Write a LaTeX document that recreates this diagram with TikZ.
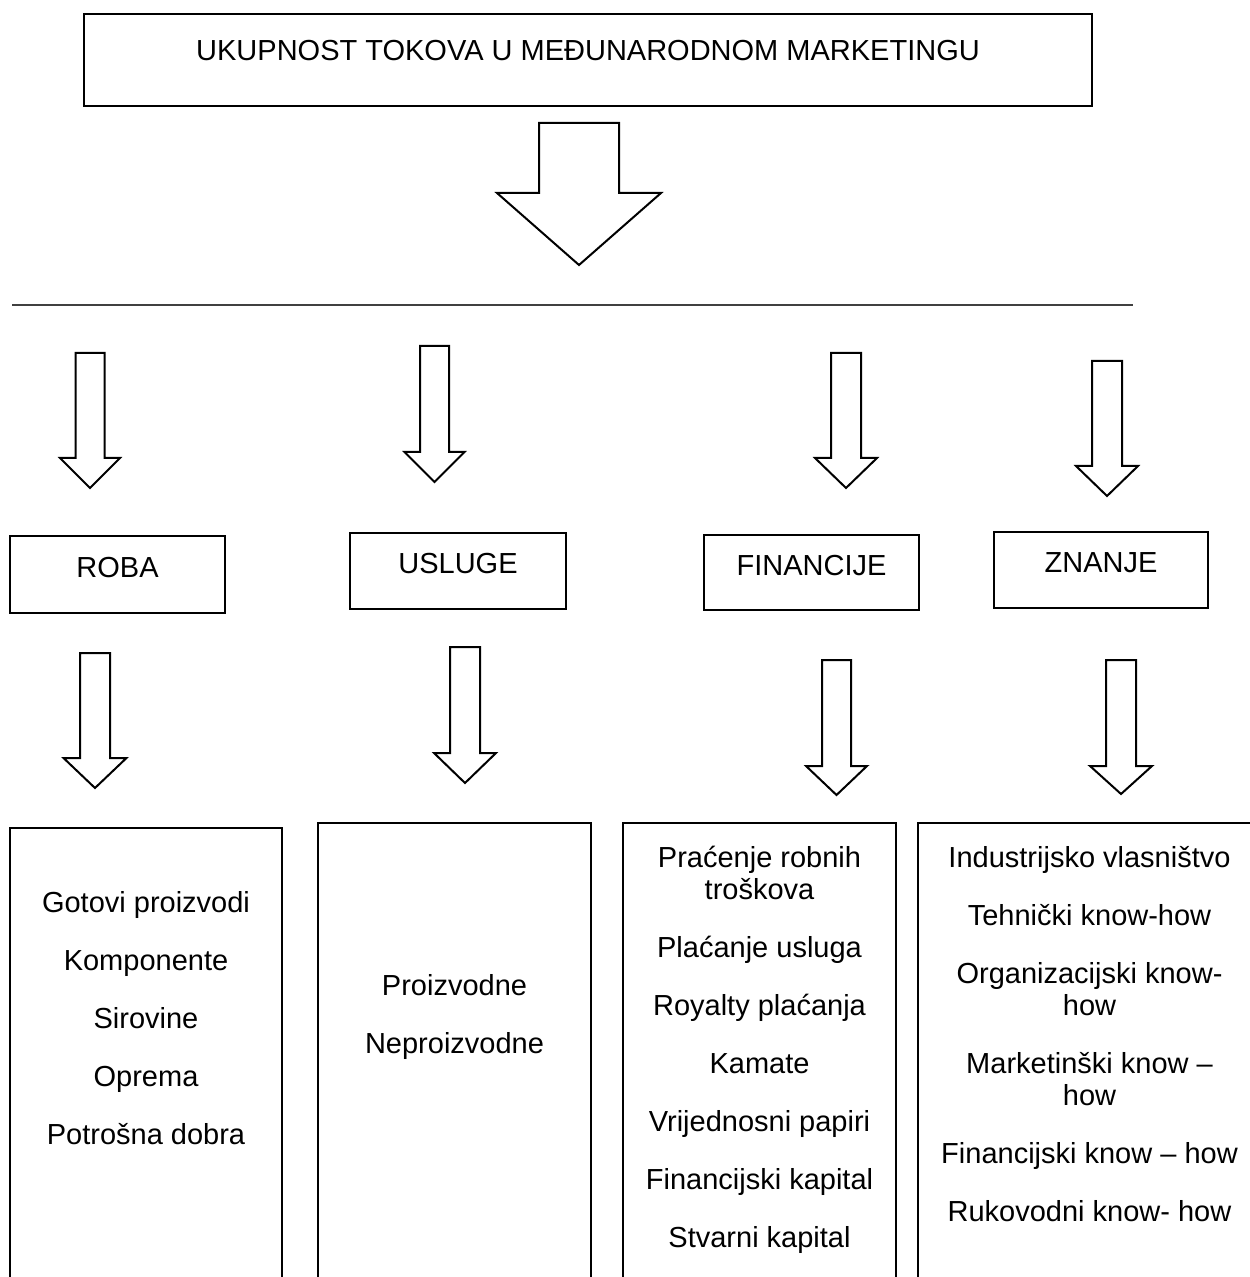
\documentclass[tikz,border=0pt]{standalone}
\usepackage{fontspec}
\setmainfont{Liberation Sans}
\usetikzlibrary{positioning}

\begin{document}
\begin{tikzpicture}[x=0.4pt,y=-0.4pt,line width=0.9pt,
                    font=\fontsize{11.6}{12.8}\selectfont,
                    box/.style={draw,rectangle,inner sep=0pt,outer sep=0pt,
                                text height=8.3pt,text depth=6pt},
                    list box/.style={draw,rectangle,outer sep=0pt,anchor=north west,
                                     minimum height=220pt},
                    list text/.style={align=center,inner sep=0pt},
                    flow arrow/.style={draw,line width=0.8pt,line join=miter}]
  \useasboundingbox (0,0) rectangle (1250,1277);
  \clip (0,0) rectangle (1250,1277);

  \node[box,minimum width=403.2pt,minimum height=36.8pt,text depth=8pt] (ukupno) at (588,60)
    {UKUPNOST TOKOVA U MEĐUNARODNOM MARKETINGU};

  \draw[line width=0.6pt,black!75] (12,305) -- (1133,305);

  % kategorije
  \node[box,minimum width=86pt,minimum height=30.8pt] (roba) at (117.5,574.5) {ROBA};
  \node[box,minimum width=86.4pt,minimum height=30.4pt] (usluge) at (458,571) {USLUGE};
  \node[box,minimum width=86pt,minimum height=30pt] (financije) at (811.5,572.5) {FINANCIJE};
  \node[box,minimum width=85.6pt,minimum height=30.4pt] (znanje) at (1101,570) {ZNANJE};

  % strelice
  \foreach \cx/\ytop/\ysh/\ytip/\shaft/\head in
      {579/123/193/265/40/82, 90/353/458/488/14.5/30, 434.5/346/452/482/14.5/30,
       846/353/458/488/15/31, 1107/361/466/496/15/31, 95/653/758/788/15/31.5,
       465/647/753/783/15/31, 836.5/660/766/795/14.5/30.5, 1121/660/766/794/15/31}
    \draw[flow arrow] (\cx-\shaft,\ytop) -- (\cx+\shaft,\ytop) -- (\cx+\shaft,\ysh)
      -- (\cx+\head,\ysh) -- (\cx,\ytip) -- (\cx-\head,\ysh) -- (\cx-\shaft,\ysh) -- cycle;

  % popisi
  \node[list box,minimum width=108.8pt] (robalist) at (10,828) {};
  \node[list box,minimum width=109.2pt] (uslugelist) at (318,823) {};
  \node[list box,minimum width=109.2pt] (financijelist) at (623,823) {};
  \node[list box,minimum width=137.2pt] (znanjelist) at (918,823) {};

  \node[list text,below=24.8pt of robalist.north] (robatxt)
    {Gotovi proizvodi\\[10.4pt]Komponente\\[10.4pt]Sirovine\\[10.4pt]Oprema\\[10.4pt]Potrošna dobra};
  \node[list text,below=60pt of uslugelist.north] (uslugetxt)
    {Proizvodne\\[10.4pt]Neproizvodne};
  \node[list text,below=8.8pt of financijelist.north] (financijetxt)
    {Praćenje robnih\\troškova\\[10.4pt]Plaćanje usluga\\[10.4pt]Royalty plaćanja\\[10.4pt]Kamate\\[10.4pt]Vrijednosni papiri\\[10.4pt]Financijski kapital\\[10.4pt]Stvarni kapital};
  \node[list text,below=8.8pt of znanjelist.north] (znanjetxt)
    {Industrijsko vlasništvo\\[10.4pt]Tehnički know-how\\[10.4pt]Organizacijski know-\\how\\[10.4pt]Marketinški know –\\how\\[10.4pt]Financijski know – how\\[10.4pt]Rukovodni know- how};
\end{tikzpicture}
\end{document}
